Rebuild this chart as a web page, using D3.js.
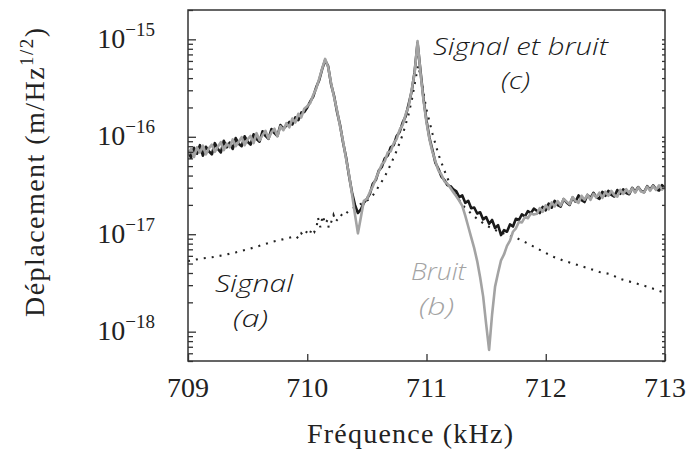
<!DOCTYPE html>
<html>
<head>
<meta charset="utf-8">
<script src="https://cdn.jsdelivr.net/npm/d3@7"></script>
<style>
  html, body { margin: 0; padding: 0; background: #fff; }
  svg { display: block; }
</style>
</head>
<body>
<svg id="chart" width="687" height="451"></svg>
<script>
// Displacement spectra near the two resonances (values in units of 1e-18 m/Hz^1/2)
const UNIT = 1e-18;

// Frequency grid of the measured spectra (kHz)
const freq = [
  709.000, 709.025, 709.050, 709.075, 709.100, 709.125, 709.150, 709.175,
  709.200, 709.225, 709.250, 709.275, 709.300, 709.325, 709.350, 709.375,
  709.400, 709.425, 709.450, 709.475, 709.500, 709.525, 709.550, 709.575,
  709.600, 709.625, 709.650, 709.675, 709.700, 709.725, 709.750, 709.775,
  709.800, 709.825, 709.850, 709.875, 709.900, 709.925, 709.950, 709.975,
  710.000, 710.025, 710.050, 710.075, 710.100, 710.125, 710.150, 710.175,
  710.200, 710.225, 710.250, 710.275, 710.300, 710.325, 710.350, 710.375,
  710.400, 710.425, 710.450, 710.475, 710.500, 710.525, 710.550, 710.575,
  710.600, 710.625, 710.650, 710.675, 710.700, 710.725, 710.750, 710.775,
  710.800, 710.825, 710.850, 710.875, 710.900, 710.925, 710.950, 710.975,
  711.000, 711.025, 711.050, 711.075, 711.100, 711.125, 711.150, 711.175,
  711.200, 711.225, 711.250, 711.275, 711.300, 711.325, 711.350, 711.375,
  711.400, 711.425, 711.450, 711.475, 711.500, 711.525, 711.550, 711.575,
  711.600, 711.625, 711.650, 711.675, 711.700, 711.725, 711.750, 711.775,
  711.800, 711.825, 711.850, 711.875, 711.900, 711.925, 711.950, 711.975,
  712.000, 712.025, 712.050, 712.075, 712.100, 712.125, 712.150, 712.175,
  712.200, 712.225, 712.250, 712.275, 712.300, 712.325, 712.350, 712.375,
  712.400, 712.425, 712.450, 712.475, 712.500, 712.525, 712.550, 712.575,
  712.600, 712.625, 712.650, 712.675, 712.700, 712.725, 712.750, 712.775,
  712.800, 712.825, 712.850, 712.875, 712.900, 712.925, 712.950, 712.975,
  713.000
];

// (b) Bruit
const noise = [
  66, 75, 62, 78, 69, 81, 66, 76, 83, 70, 79, 88, 73, 85, 78, 94, 80, 89, 99, 82,
  94, 102, 86, 109, 92, 104, 115, 96, 111, 121, 101, 128, 117, 138, 125, 154, 140, 172, 158, 194,
  206,
  222, 268, 312, 392, 500, 630, 520, 355, 255, 186, 128, 90, 60, 41, 26, 16, 10.2, 15, 22, 23,
  27, 31, 37, 44, 52, 56, 69, 71, 86, 95, 118, 132, 170, 205, 300, 450, 960, 450, 236, 140,
  94, 70, 56, 45, 41, 35, 33,
  30, 27, 24.5, 22, 19.5, 15.5, 12, 9.3, 7.2, 5.3, 3.6, 2.3, 1.2, 0.65, 1.5, 2.9, 4.0, 5.4, 6.2, 7.6,
  8.6, 10.6, 11.5, 13.4, 13.2, 15.0, 14.6, 16.3, 15.9,
  16.2, 18.5, 17.0, 19.8, 18.0, 21.2, 19.3, 21.9, 19.7, 23.0, 21.6, 20.3, 24.0, 21.9, 21.0, 24.8,
  22.6, 25.4, 22.5, 26.0, 23.9, 26.7, 23.6, 27.3, 24.8, 27.9, 25.1, 24.3, 28.6, 25.9, 29.0, 26.4,
  29.5, 26.8, 30.3, 27.5, 26.8, 30.8, 27.9, 31.3, 28.5, 31.8, 28.7, 30.4
];

// (c) Signal et bruit
const signalNoise = [
  72, 61, 77, 67, 82, 64, 79, 71, 66, 86, 75, 69, 91, 78, 87, 75, 97, 85, 80, 101,
  89, 83, 106, 95, 89, 114, 102, 95, 120, 109, 102, 132, 121, 130, 142, 134, 158, 148, 177, 180,
  200,
  230, 258, 322, 380, 495, 610, 530, 345, 262, 180, 132, 88, 62, 40, 27, 20, 16.5, 18, 21, 23,
  26, 33, 36, 45, 49, 60, 64, 78, 82, 102, 112, 140, 162, 215, 290, 460, 920, 470, 245, 146,
  97, 73, 54, 47, 39, 36, 32,
  31, 29, 27.5, 24, 25, 21, 22, 18.5, 18.8, 16.3, 16.8, 14.2, 15.0, 12.8, 14.0, 11.6, 12.4, 9.8, 11.0, 10.6,
  12.6, 12.0, 14.4, 14.0, 16.0, 15.2, 17.3, 16.4, 18.3,
  17.4, 16.5, 19.1, 17.6, 20.6, 18.7, 22.0, 19.9, 19.2, 22.9, 21.2, 20.0, 23.8, 21.6, 25.0, 22.4,
  21.4, 25.3, 23.5, 26.6, 24.0, 23.1, 27.2, 24.8, 27.9, 25.3, 24.4, 28.4, 26.0, 28.9, 26.5, 25.7,
  29.9, 27.2, 30.5, 27.8, 27.0, 31.1, 28.6, 31.7, 28.9, 28.1, 31.9, 29.8
];

// (a) Signal
const signalFreq = [
  709.00, 709.10, 709.20, 709.30, 709.40, 709.50, 709.60, 709.70, 709.80, 709.85,
  709.90, 709.93, 709.95, 709.97, 710.00, 710.02, 710.04, 710.06, 710.08, 710.09,
  710.11, 710.13, 710.15, 710.17, 710.18, 710.20, 710.22, 710.24, 710.26, 710.28,
  710.30, 710.35, 710.40, 710.45, 710.50, 710.55, 710.60, 710.65, 710.70, 710.75,
  710.80, 710.85, 710.88, 710.91, 710.93, 710.95, 710.98, 711.00, 711.05, 711.10,
  711.15, 711.20, 711.25, 711.30, 711.40, 711.50, 711.60, 711.70, 711.76, 711.87,
  711.98, 712.06, 712.14, 712.23, 712.35, 712.45, 712.54, 712.62, 712.73, 712.85,
  712.96, 713.00
];
const signalValues = [
  5.3, 5.6, 5.8, 6.1, 6.5, 7.0, 7.6, 8.3, 8.9, 9.2,
  9.6, 9.0, 10.2, 9.6, 10.8, 10.0, 11.5, 10.6, 12.2, 14.8,
  11.8, 15.5, 12.8, 14.0, 11.6, 13.2, 15.8, 13.5, 14.6, 16.0,
  15.2, 17.5, 19.0, 20.5, 22, 25, 31, 39, 52, 72,
  105, 170, 250, 400, 540, 420, 260, 190, 108, 66,
  45, 32, 25, 20, 15.2, 12.3, 10.7, 9.6, 9.1, 7.8,
  6.6, 5.9, 5.4, 5.0, 4.5, 4.1, 3.9, 3.5, 3.2, 2.9,
  2.6, 2.5
];

const xTicks = [709, 710, 711, 712, 713];
const yDecades = [-18, -17, -16, -15];

const W = 687, H = 451;
const plot = { left: 188, right: 665, top: 10, bottom: 361 };

const svg = d3.select("#chart");
svg.append("rect").attr("width", W).attr("height", H).attr("fill", "#fff");

const x = d3.scaleLinear().domain([709, 713]).range([plot.left, plot.right]);
const y = d3.scaleLog().domain([5e-19, 2e-15]).range([plot.bottom, plot.top]);

const serif = "'Times New Roman', 'Liberation Serif', Tinos, Times, serif";
const sans = "'Open Sans', 'Noto Sans', sans-serif";

// Curves, clipped to the plotting frame
svg.append("clipPath").attr("id", "plotClip")
  .append("rect")
  .attr("x", plot.left).attr("y", plot.top)
  .attr("width", plot.right - plot.left).attr("height", plot.bottom - plot.top);

const g = svg.append("g").attr("clip-path", "url(#plotClip)");
const line = d3.line().x(d => x(d[0])).y(d => y(d[1] * UNIT));

const seriesA = signalFreq.map((f, i) => [f, signalValues[i]]);
const seriesB = freq.map((f, i) => [f, noise[i]]);
const seriesC = freq.map((f, i) => [f, signalNoise[i]]);

g.append("path").datum(seriesA)
  .attr("d", line).attr("fill", "none")
  .attr("stroke", "#222").attr("stroke-width", 2.1)
  .attr("stroke-dasharray", "2 6");

g.append("path").datum(seriesC)
  .attr("d", line).attr("fill", "none")
  .attr("stroke", "#1a1a1a").attr("stroke-width", 2.6)
  .attr("stroke-linejoin", "round");

g.append("path").datum(seriesB)
  .attr("d", line).attr("fill", "none")
  .attr("stroke", "#a3a3a3").attr("stroke-width", 2.6)
  .attr("stroke-linejoin", "round");

// Axes (ticks pointing inward)
const axisColor = "#333";
const minorTicks = [];
for (let k = -19; k <= -15; k++) {
  for (let m = 2; m <= 9; m++) {
    const v = m * Math.pow(10, k);
    if (v >= 5e-19 && v <= 2e-15) minorTicks.push(v);
  }
}
const majorTicks = yDecades.map(k => Math.pow(10, k));

function styleAxis(sel) {
  sel.select(".domain").remove();
  sel.selectAll(".tick line").attr("stroke", axisColor).attr("stroke-width", 1.3);
  sel.selectAll(".tick text").remove();
}

svg.append("g").attr("transform", `translate(${plot.left},0)`)
  .call(d3.axisLeft(y).tickValues(majorTicks).tickSize(-8).tickFormat(""))
  .call(styleAxis);
svg.append("g").attr("transform", `translate(${plot.left},0)`)
  .call(d3.axisLeft(y).tickValues(minorTicks).tickSize(-5).tickFormat(""))
  .call(styleAxis);
svg.append("g").attr("transform", `translate(${plot.right},0)`)
  .call(d3.axisRight(y).tickValues(majorTicks.concat(minorTicks)).tickSize(-3).tickFormat(""))
  .call(styleAxis);
svg.append("g").attr("transform", `translate(0,${plot.bottom})`)
  .call(d3.axisBottom(x).tickValues(xTicks).tickSize(-7).tickFormat(""))
  .call(styleAxis);

// Frame
svg.append("rect")
  .attr("x", plot.left).attr("y", plot.top)
  .attr("width", plot.right - plot.left).attr("height", plot.bottom - plot.top)
  .attr("fill", "none").attr("stroke", axisColor).attr("stroke-width", 1.5);

// Tick labels
svg.append("g").selectAll("text").data(xTicks).join("text")
  .attr("x", d => x(d)).attr("y", 397)
  .attr("text-anchor", "middle")
  .attr("font-family", serif).attr("font-size", 28).attr("fill", "#222")
  .text(d => d);

const yl = svg.append("g").selectAll("text").data(yDecades).join("text")
  .attr("x", 155).attr("y", d => y(Math.pow(10, d)) + 8.5)
  .attr("text-anchor", "end")
  .attr("font-family", serif).attr("font-size", 28).attr("fill", "#222");
yl.append("tspan").text("10");
yl.append("tspan").attr("dy", -12).attr("font-size", 19).text(d => "\u2212" + Math.abs(d));

// Axis titles
svg.append("text")
  .attr("x", 410).attr("y", 443)
  .attr("text-anchor", "middle")
  .attr("font-family", serif).attr("font-size", 28).attr("fill", "#222")
  .attr("textLength", 206).attr("lengthAdjust", "spacing")
  .text("Fréquence (kHz)");

const yt = svg.append("text")
  .attr("transform", "translate(44,172.5) rotate(-90)")
  .attr("text-anchor", "middle")
  .attr("font-family", serif).attr("font-size", 28).attr("fill", "#222")
  .attr("textLength", 289).attr("lengthAdjust", "spacing");
yt.append("tspan").text("Déplacement (m/Hz");
yt.append("tspan").attr("dy", -11).attr("font-size", 19).text("1/2");
yt.append("tspan").attr("dy", 11).text(")");

// Curve annotations
const notes = [
  { text: "Signal et bruit", x: 433, y: 55, len: 175, size: 24, color: "#1a1a1a" },
  { text: "(c)", x: 501, y: 89, len: 29, size: 23, color: "#1a1a1a" },
  { text: "Signal", x: 215, y: 292, len: 78, size: 24, color: "#1a1a1a" },
  { text: "(a)", x: 233, y: 327, len: 35, size: 24, color: "#1a1a1a" },
  { text: "Bruit", x: 411, y: 280, len: 55, size: 24, color: "#a3a3a3" },
  { text: "(b)", x: 419, y: 315, len: 35, size: 24, color: "#a3a3a3" }
];
svg.append("g").selectAll("text").data(notes).join("text")
  .attr("x", d => d.x).attr("y", d => d.y)
  .attr("font-family", sans).attr("font-style", "italic").attr("font-weight", 300)
  .attr("font-size", d => d.size).attr("fill", d => d.color)
  .attr("textLength", d => d.len).attr("lengthAdjust", "spacingAndGlyphs")
  .text(d => d.text);
</script>
</body>
</html>
